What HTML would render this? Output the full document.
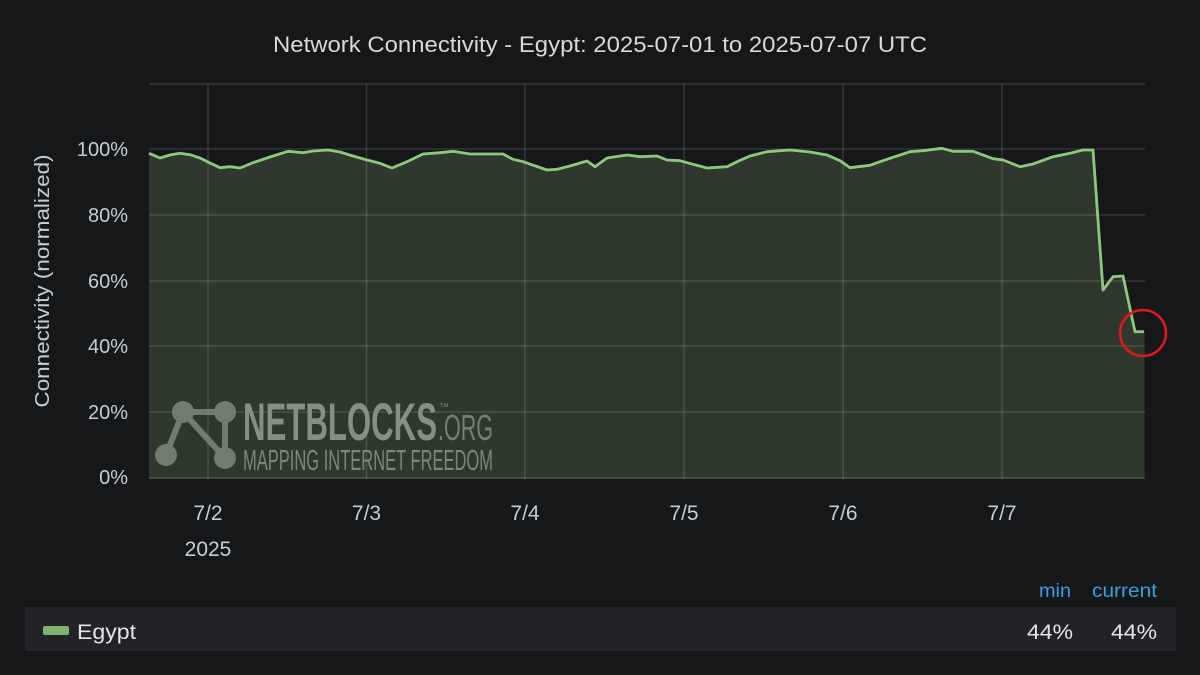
<!DOCTYPE html>
<html>
<head>
<meta charset="utf-8">
<style>
  html, body { margin:0; padding:0; background:#161719; }
  body { width:1200px; height:675px; overflow:hidden; font-family:"Liberation Sans", sans-serif; }
  svg { display:block; }
</style>
</head>
<body>
<svg width="1200" height="675" viewBox="0 0 1200 675" xmlns="http://www.w3.org/2000/svg">
  <rect x="0" y="0" width="1200" height="675" fill="#161719"/>

  <!-- Title -->
  <text x="600" y="52" text-anchor="middle" font-family="Liberation Sans, sans-serif" font-size="22" fill="#d8d9da" textLength="654" lengthAdjust="spacingAndGlyphs">Network Connectivity - Egypt: 2025-07-01 to 2025-07-07 UTC</text>

  <!-- Area fill -->
  <path fill="#2e382d" d="M149,153.3 L160,158 L170,155 L180,153.3 L190,154.7 L200,158 L210,163 L220,167.7 L230,166.7 L240,168 L253,162.7 L270,157 L288,151.3 L303,152.7 L313,151 L328,150 L340,152 L353,156 L367,160 L380,163.3 L392,168 L407,161.7 L423,154 L440,152.7 L453,151.3 L470,154 L503,154 L513,159.3 L523,161.7 L547,170 L557,169.3 L570,166 L587,161 L595,166.7 L607,158 L627,155 L640,156.7 L657,156 L667,160 L680,160.7 L693,164.3 L707,168 L727,166.7 L737,161.7 L750,156 L767,151.7 L780,150.7 L790,150 L810,152 L827,155 L840,160.7 L850,167.7 L870,165.3 L880,161.7 L893,157.3 L910,151.7 L923,150.7 L942,148.3 L953,151.3 L973,151.3 L993,158.7 L1003,160 L1020,166.7 L1033,164 L1053,156.7 L1070,153.3 L1083,150 L1093,150 L1103,290 L1113,276.7 L1123,276 L1135,331.7 L1144.5,331.7 L1144.5,479 L149,479 Z"/>

  <!-- Grid -->
  <g stroke="#ffffff" stroke-opacity="0.13" stroke-width="1.5">
    <line x1="149" y1="84" x2="1145" y2="84"/>
    <line x1="149" y1="149" x2="1145" y2="149"/>
    <line x1="149" y1="215" x2="1145" y2="215"/>
    <line x1="149" y1="281" x2="1145" y2="281"/>
    <line x1="149" y1="346" x2="1145" y2="346"/>
    <line x1="149" y1="412" x2="1145" y2="412"/>
    <line x1="149" y1="478" x2="1145" y2="478"/>
    <line x1="208" y1="84" x2="208" y2="479"/>
    <line x1="366.5" y1="84" x2="366.5" y2="479"/>
    <line x1="525" y1="84" x2="525" y2="479"/>
    <line x1="684" y1="84" x2="684" y2="479"/>
    <line x1="843" y1="84" x2="843" y2="479"/>
    <line x1="1002" y1="84" x2="1002" y2="479"/>
  </g>

  <!-- Watermark -->
  <g>
    <g stroke="#717b6e" stroke-width="6" stroke-linecap="butt">
      <line x1="183" y1="412" x2="225" y2="412"/>
      <line x1="166" y1="455" x2="183" y2="412"/>
      <line x1="183" y1="412" x2="225" y2="458"/>
      <line x1="225" y1="412" x2="225" y2="458"/>
    </g>
    <g fill="#717b6e">
      <circle cx="183" cy="412" r="11"/>
      <circle cx="225" cy="412" r="11"/>
      <circle cx="166" cy="455" r="11"/>
      <circle cx="225" cy="458" r="11"/>
    </g>
    <text x="243" y="440" font-family="Liberation Sans, sans-serif" font-weight="bold" font-size="53" fill="#858f82" textLength="194" lengthAdjust="spacingAndGlyphs">NETBLOCKS</text>
    <text x="438" y="440" font-family="Liberation Sans, sans-serif" font-size="36" fill="#767f73" textLength="55" lengthAdjust="spacingAndGlyphs">.ORG</text>
    <text x="439" y="410" font-family="Liberation Sans, sans-serif" font-size="10" fill="#767f73">™</text>
    <text x="243" y="470" font-family="Liberation Sans, sans-serif" font-size="29" fill="#7d867a" textLength="250" lengthAdjust="spacingAndGlyphs">MAPPING INTERNET FREEDOM</text>
  </g>

  <!-- Series line -->
  <path fill="none" stroke="#8cc97d" stroke-width="2.8" stroke-linejoin="round" d="M149,153.3 L160,158 L170,155 L180,153.3 L190,154.7 L200,158 L210,163 L220,167.7 L230,166.7 L240,168 L253,162.7 L270,157 L288,151.3 L303,152.7 L313,151 L328,150 L340,152 L353,156 L367,160 L380,163.3 L392,168 L407,161.7 L423,154 L440,152.7 L453,151.3 L470,154 L503,154 L513,159.3 L523,161.7 L547,170 L557,169.3 L570,166 L587,161 L595,166.7 L607,158 L627,155 L640,156.7 L657,156 L667,160 L680,160.7 L693,164.3 L707,168 L727,166.7 L737,161.7 L750,156 L767,151.7 L780,150.7 L790,150 L810,152 L827,155 L840,160.7 L850,167.7 L870,165.3 L880,161.7 L893,157.3 L910,151.7 L923,150.7 L942,148.3 L953,151.3 L973,151.3 L993,158.7 L1003,160 L1020,166.7 L1033,164 L1053,156.7 L1070,153.3 L1083,150 L1093,150 L1103,290 L1113,276.7 L1123,276 L1135,331.7 L1144,331.7"/>

  <!-- Red circle -->
  <circle cx="1143" cy="333" r="23" fill="none" stroke="#e0191c" stroke-width="2.5"/>

  <!-- Y axis labels -->
  <g font-family="Liberation Sans, sans-serif" font-size="20" fill="#c7cdd3" text-anchor="end">
    <text x="128" y="156">100%</text>
    <text x="128" y="222">80%</text>
    <text x="128" y="288">60%</text>
    <text x="128" y="353">40%</text>
    <text x="128" y="419">20%</text>
    <text x="128" y="484">0%</text>
  </g>
  <text transform="translate(49,281) rotate(-90)" text-anchor="middle" font-family="Liberation Sans, sans-serif" font-size="20" fill="#c7cdd3" textLength="253" lengthAdjust="spacingAndGlyphs">Connectivity (normalized)</text>

  <!-- X axis labels -->
  <g font-family="Liberation Sans, sans-serif" font-size="21" fill="#c7cdd3" text-anchor="middle">
    <text x="208" y="520">7/2</text>
    <text x="208" y="556">2025</text>
    <text x="366.5" y="520">7/3</text>
    <text x="525" y="520">7/4</text>
    <text x="684" y="520">7/5</text>
    <text x="843" y="520">7/6</text>
    <text x="1002" y="520">7/7</text>
  </g>

  <!-- Legend -->
  <text x="1071" y="597" text-anchor="end" font-family="Liberation Sans, sans-serif" font-size="19" fill="#33a2e5" textLength="32" lengthAdjust="spacingAndGlyphs">min</text>
  <text x="1157" y="597" text-anchor="end" font-family="Liberation Sans, sans-serif" font-size="19" fill="#33a2e5" textLength="65" lengthAdjust="spacingAndGlyphs">current</text>
  <rect x="25" y="607" width="1151" height="44" fill="#222327"/>
  <rect x="43" y="626" width="26" height="9" rx="2" fill="#7eb26d"/>
  <text x="77" y="639" font-family="Liberation Sans, sans-serif" font-size="21" fill="#e4e5e6" textLength="59" lengthAdjust="spacingAndGlyphs">Egypt</text>
  <text x="1073" y="639" text-anchor="end" font-family="Liberation Sans, sans-serif" font-size="21" fill="#e4e5e6" textLength="46" lengthAdjust="spacingAndGlyphs">44%</text>
  <text x="1157" y="639" text-anchor="end" font-family="Liberation Sans, sans-serif" font-size="21" fill="#e4e5e6" textLength="46" lengthAdjust="spacingAndGlyphs">44%</text>
</svg>
</body>
</html>
